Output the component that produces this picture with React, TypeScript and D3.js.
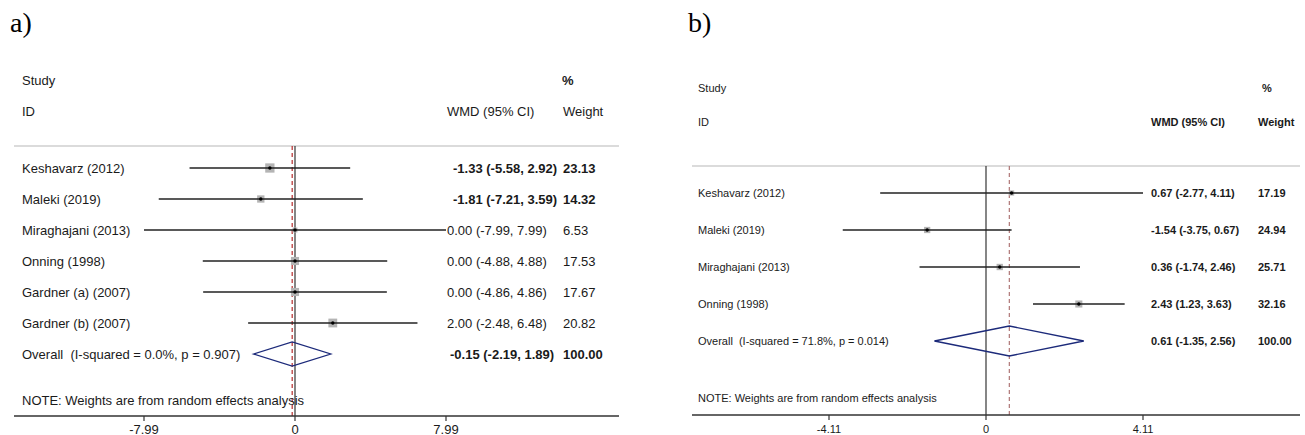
import React from "react";
import * as d3 from "d3";

// ---------- Panel a data ----------
const studiesA = ["Keshavarz (2012)", "Maleki (2019)", "Miraghajani (2013)", "Onning (1998)", "Gardner (a) (2007)", "Gardner (b) (2007)"];
const wmdA = [-1.33, -1.81, 0.0, 0.0, 0.0, 2.0];
const lowA = [-5.58, -7.21, -7.99, -4.88, -4.86, -2.48];
const highA = [2.92, 3.59, 7.99, 4.88, 4.86, 6.48];
const weightA = [23.13, 14.32, 6.53, 17.53, 17.67, 20.82];
const overallA = [-0.15, -2.19, 1.89]; // est, low, high
const overallWeightA = 100.0;
const overallLabelA = "Overall  (I-squared = 0.0%, p = 0.907)";
const ticksA = [-7.99, 0, 7.99];
const tickLabelsA = ["-7.99", "0", "7.99"];

// ---------- Panel b data ----------
const studiesB = ["Keshavarz (2012)", "Maleki (2019)", "Miraghajani (2013)", "Onning (1998)"];
const wmdB = [0.67, -1.54, 0.36, 2.43];
const lowB = [-2.77, -3.75, -1.74, 1.23];
const highB = [4.11, 0.67, 2.46, 3.63];
const weightB = [17.19, 24.94, 25.71, 32.16];
const overallB = [0.61, -1.35, 2.56];
const overallWeightB = 100.0;
const overallLabelB = "Overall  (I-squared = 71.8%, p = 0.014)";
const ticksB = [-4.11, 0, 4.11];
const tickLabelsB = ["-4.11", "0", "4.11"];

const noteText = "NOTE: Weights are from random effects analysis";

const SANS = "'Liberation Sans', Arial, Helvetica, sans-serif";
const SERIF = "'Liberation Serif', 'Times New Roman', serif";

type PanelCfg = {
  tag: string;
  tagX: number;
  studies: string[];
  est: number[];
  low: number[];
  high: number[];
  weight: number[];
  overall: number[];
  overallWeight: number;
  overallLabel: string;
  ticks: number[];
  tickLabels: string[];
  xRange: [number, number];
  labelX: number;
  valX: number;
  valXBold: number;
  wX: number;
  pctX: number;
  lineX: [number, number];
  studyY: number;
  idY: number;
  topLineY: number;
  row0: number;
  rowStep: number;
  noteY: number;
  axisY: number;
  tickLabelY: number;
  fs: number;
  boxK: number;
  diamondH: number;
  dashColor: string;
  boldRows: number[];
  boldAll: boolean;
  overallBold: boolean;
};

const fmt = (v: number) => v.toFixed(2);

function Panel({ c }: { c: PanelCfg }) {
  const x = d3.scaleLinear().domain([c.ticks[0], c.ticks[c.ticks.length - 1]]).range(c.xRange);
  const rowY = (i: number) => c.row0 + c.rowStep * i;
  const ovY = rowY(c.studies.length);
  const [oe, ol, oh] = c.overall;
  const diamond = d3.line()([
    [x(ol), ovY],
    [x(oe), ovY - c.diamondH],
    [x(oh), ovY],
    [x(oe), ovY + c.diamondH],
    [x(ol), ovY],
  ] as [number, number][]) + "Z";
  const bold = (i: number) => c.boldAll || c.boldRows.includes(i);
  return (
    <g fontFamily={SANS} fill="#1a1a1a">
      <text x={c.tagX} y={32} fontFamily={SERIF} fontSize={28} fill="#000">{c.tag}</text>
      <text x={c.labelX} y={c.studyY} fontSize={c.fs} dominantBaseline="central">Study</text>
      <text x={c.labelX} y={c.idY} fontSize={c.fs} dominantBaseline="central">ID</text>
      <text x={c.pctX} y={c.studyY} fontSize={c.fs} fontWeight="bold" dominantBaseline="central">%</text>
      <text x={c.valX} y={c.idY} fontSize={c.fs} fontWeight={c.boldAll ? "bold" : "normal"} dominantBaseline="central">WMD (95% CI)</text>
      <text x={c.wX} y={c.idY} fontSize={c.fs} fontWeight={c.boldAll ? "bold" : "normal"} dominantBaseline="central">Weight</text>
      <line x1={c.lineX[0]} x2={c.lineX[1]} y1={c.topLineY} y2={c.topLineY} stroke="#cfcfcf" strokeWidth={1.5} />
      <line x1={x(0)} x2={x(0)} y1={c.topLineY} y2={c.axisY} stroke="#222" strokeWidth={1.1} />
      <line x1={x(oe)} x2={x(oe)} y1={c.topLineY} y2={c.axisY} stroke={c.dashColor} strokeWidth={1.1} strokeDasharray="4,3" />
      {c.studies.map((s, i) => {
        const y = rowY(i);
        const side = c.boxK * Math.sqrt(c.weight[i]);
        return (
          <g key={s}>
            <text x={c.labelX} y={y} fontSize={c.fs} dominantBaseline="central">{s}</text>
            <rect x={x(c.est[i]) - side / 2} y={y - side / 2} width={side} height={side} fill="#b4b4b4" />
            <line x1={x(c.low[i])} x2={x(c.high[i])} y1={y} y2={y} stroke="#222" strokeWidth={1.3} />
            <circle cx={x(c.est[i])} cy={y} r={1.7} fill="#000" />
            <text x={c.boldRows.includes(i) ? c.valXBold : c.valX} y={y} fontSize={c.fs}
              fontWeight={bold(i) ? "bold" : "normal"} dominantBaseline="central">
              {`${fmt(c.est[i])} (${fmt(c.low[i])}, ${fmt(c.high[i])})`}
            </text>
            <text x={c.wX} y={y} fontSize={c.fs} fontWeight={bold(i) ? "bold" : "normal"} dominantBaseline="central">{fmt(c.weight[i])}</text>
          </g>
        );
      })}
      <text x={c.labelX} y={ovY} fontSize={c.fs} dominantBaseline="central" style={{ whiteSpace: "pre" }}>{c.overallLabel}</text>
      <path d={diamond} fill="none" stroke="#1c2a7a" strokeWidth={1.3} />
      <text x={c.valX + (c.overallBold && !c.boldAll ? 3 : 0)} y={ovY} fontSize={c.fs} fontWeight={c.overallBold ? "bold" : "normal"} dominantBaseline="central">
        {`${fmt(oe)} (${fmt(ol)}, ${fmt(oh)})`}
      </text>
      <text x={c.wX} y={ovY} fontSize={c.fs} fontWeight={c.overallBold ? "bold" : "normal"} dominantBaseline="central">{fmt(c.overallWeight)}</text>
      <text x={c.labelX} y={c.noteY} fontSize={c.fs} dominantBaseline="central">{noteText}</text>
      <line x1={c.lineX[0]} x2={c.lineX[1]} y1={c.axisY} y2={c.axisY} stroke="#333" strokeWidth={1.3} />
      {c.ticks.map((t, i) => (
        <g key={t}>
          <line x1={x(t)} x2={x(t)} y1={c.axisY} y2={c.axisY + 5} stroke="#333" strokeWidth={1.2} />
          <text x={x(t)} y={c.tickLabelY} fontSize={c.fs} textAnchor="middle" dominantBaseline="central">{c.tickLabels[i]}</text>
        </g>
      ))}
    </g>
  );
}

const cfgA: PanelCfg = {
  tag: "a)", tagX: 10,
  studies: studiesA, est: wmdA, low: lowA, high: highA, weight: weightA,
  overall: overallA, overallWeight: overallWeightA, overallLabel: overallLabelA,
  ticks: ticksA, tickLabels: tickLabelsA,
  xRange: [144, 446], labelX: 22, valX: 447, valXBold: 453, wX: 563, pctX: 562,
  lineX: [14, 619], studyY: 80, idY: 111, topLineY: 146, row0: 168, rowStep: 31,
  noteY: 400, axisY: 416, tickLabelY: 429, fs: 13, boxK: 1.93, diamondH: 12,
  dashColor: "#b01818", boldRows: [0, 1], boldAll: false, overallBold: true,
};

const cfgB: PanelCfg = {
  tag: "b)", tagX: 688,
  studies: studiesB, est: wmdB, low: lowB, high: highB, weight: weightB,
  overall: overallB, overallWeight: overallWeightB, overallLabel: overallLabelB,
  ticks: ticksB, tickLabels: tickLabelsB,
  xRange: [829, 1143], labelX: 698, valX: 1151, valXBold: 1151, wX: 1258, pctX: 1262,
  lineX: [692, 1300], studyY: 88, idY: 122, topLineY: 166, row0: 193, rowStep: 37,
  noteY: 398, axisY: 415, tickLabelY: 429, fs: 11, boxK: 1.25, diamondH: 15,
  dashColor: "#a86a6a", boldRows: [], boldAll: true, overallBold: true,
};

export default function App() {
  return (
    <svg width={1305} height={435} style={{ position: "absolute", left: 0, top: 0, background: "#fff" }}>
      <rect width={1305} height={435} fill="#fff" />
      <Panel c={cfgA} />
      <Panel c={cfgB} />
    </svg>
  );
}
